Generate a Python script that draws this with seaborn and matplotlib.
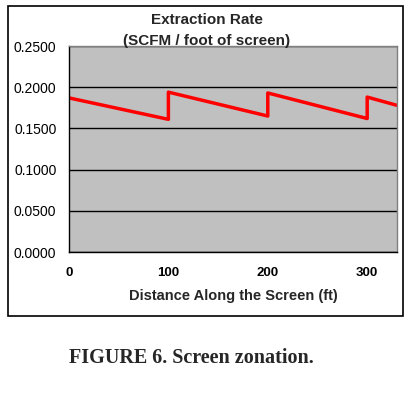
import matplotlib
matplotlib.use("Agg")
import matplotlib.pyplot as plt
import seaborn as sns
import pandas as pd
from matplotlib.patches import Rectangle

# values
distance_ft = [0, 100, 100, 200, 200, 300, 300, 330]
extraction_rate = [0.187, 0.161, 0.194, 0.165, 0.193, 0.162, 0.188, 0.178]
y_ticks = [0.0, 0.05, 0.10, 0.15, 0.20, 0.25]
x_ticks = [0, 100, 200, 300]

df = pd.DataFrame({"Distance": distance_ft, "Rate": extraction_rate})

sns.set_style("white")
plt.rcParams["font.family"] = ["Liberation Sans", "DejaVu Sans"]

fig = plt.figure(figsize=(4.11, 3.95), dpi=100)
W, H = 411, 395
ax = fig.add_axes([69 / W, 1 - 252 / H, (397 - 69) / W, (252 - 46) / H])
ax.set_facecolor("#c0c0c0")

sns.lineplot(data=df, x="Distance", y="Rate", ax=ax, color="#ff0000",
             linewidth=2.5, sort=False, estimator=None)

ax.set_xlim(0, 330)
ax.set_ylim(0, 0.25)
ax.set_yticks(y_ticks)
ax.set_yticklabels([f"{v:.4f}" for v in y_ticks], fontsize=10)
ax.set_xticks(x_ticks)
ax.set_xticklabels([str(v) for v in x_ticks], fontsize=9.5, fontweight="bold")
ax.yaxis.grid(True, color="black", linewidth=1)
ax.set_axisbelow(True)
ax.tick_params(axis="both", direction="out", length=5, width=1, colors="black")
ax.tick_params(axis="x", pad=6)
ax.tick_params(axis="y", pad=4)

for side in ["top", "right"]:
    ax.spines[side].set_color("#808080")
    ax.spines[side].set_linewidth(1)
for side in ["left", "bottom"]:
    ax.spines[side].set_color("black")
    ax.spines[side].set_linewidth(1)

ax.set_xlabel("Distance Along the Screen (ft)", fontsize=10.5, fontweight="bold", labelpad=7)
ax.set_ylabel("")

fig.text(207 / W, 1 - 20 / H, "Extraction Rate", ha="center", va="center",
         fontsize=11, fontweight="bold")
fig.text(207 / W, 1 - 41 / H, "(SCFM / foot of screen)", ha="center", va="center",
         fontsize=11, fontweight="bold")

# outer chart frame
fig.patches.append(Rectangle((8 / W, 1 - 316 / H), (403 - 8) / W, (316 - 6) / H,
                             transform=fig.transFigure, fill=False,
                             edgecolor="black", linewidth=1.2))

fig.text(191 / W, 1 - 358 / H, "FIGURE 6. Screen zonation.", ha="center", va="center",
         fontsize=14.5, fontweight="bold", family=["Liberation Serif", "DejaVu Serif"])

fig.savefig("out.png", dpi=100)
